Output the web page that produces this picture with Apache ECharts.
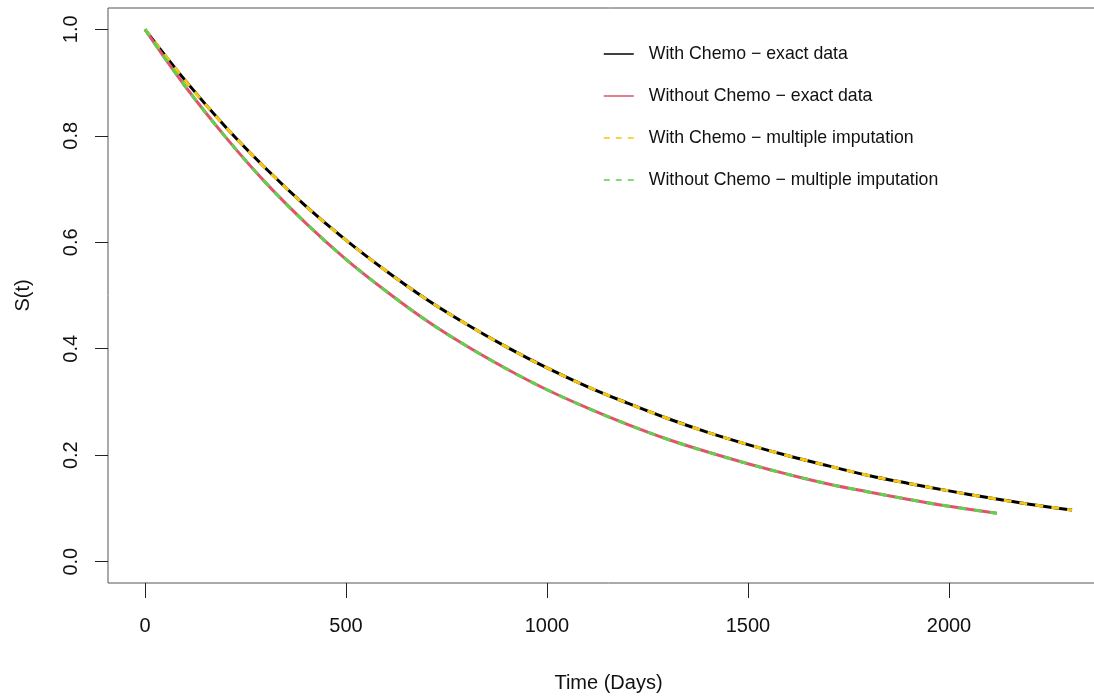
<!DOCTYPE html>
<html>
<head>
<meta charset="utf-8">
<script src="https://cdn.jsdelivr.net/npm/echarts@6/dist/echarts.min.js"></script>
<style>html,body{margin:0;padding:0;background:#fff;overflow:hidden;}#c{width:1120px;height:698px;}</style>
</head>
<body>
<div id="c"></div>
<script>
// Time points (days)
const timesChemo = [0,100,200,300,400,500,600,700,800,900,1000,1100,1200,1300,1400,1500,1600,1700,1800,1900,2000,2100,2200,2306];
const timesNoChemo = [0,100,200,300,400,500,600,700,800,900,1000,1100,1200,1300,1400,1500,1600,1700,1800,1900,2000,2119];
// S(t) values
const withChemoExact = [1.000,0.904,0.817,0.739,0.668,0.604,0.546,0.493,0.446,0.403,0.364,0.329,0.298,0.269,0.243,0.220,0.199,0.180,0.162,0.147,0.133,0.120,0.108,0.097];
const withoutChemoExact = [1.000,0.893,0.798,0.712,0.636,0.568,0.508,0.453,0.405,0.362,0.323,0.289,0.258,0.230,0.206,0.184,0.164,0.146,0.131,0.117,0.104,0.091];
const withChemoMI = [1.000,0.904,0.817,0.739,0.668,0.604,0.546,0.493,0.446,0.403,0.364,0.329,0.298,0.269,0.243,0.220,0.199,0.180,0.162,0.147,0.133,0.120,0.108,0.097];
const withoutChemoMI = [1.000,0.893,0.798,0.712,0.636,0.568,0.508,0.453,0.405,0.362,0.323,0.289,0.258,0.230,0.206,0.184,0.164,0.146,0.131,0.117,0.104,0.091];
const seriesNames = ['With Chemo \u2212 exact data','Without Chemo \u2212 exact data','With Chemo \u2212 multiple imputation','Without Chemo \u2212 multiple imputation'];
const xTicks = [0,500,1000,1500,2000];
const yTicks = [0,0.2,0.4,0.6,0.8,1.0];

const FONT = "'Liberation Sans', Arial, Helvetica, sans-serif";
const zip = (xs, ys) => xs.map((x, i) => [x, ys[i]]);

const chart = echarts.init(document.getElementById('c'), null, {renderer: 'canvas'});
const mk = (name, xs, ys, color, dashed, z) => ({
  name, type: 'line', data: zip(xs, ys), symbol: 'none', smooth: 0.4,
  z, animation: false,
  lineStyle: {color, width: 3, type: dashed ? [8, 8] : 'solid', cap: 'butt', join: 'round'},
  itemStyle: {color}
});
const legendItem = (name, color, dashed) => ({
  name,
  itemStyle: {opacity: 0, borderWidth: 0},
  lineStyle: {width: 1.5, color, type: dashed ? [6, 6] : 'solid', opacity: 1}
});
chart.setOption({
  animation: false,
  backgroundColor: '#fff',
  textStyle: {fontFamily: FONT},
  grid: {left: 108, top: 8, width: 1001, height: 576, show: true, borderColor: '#555', borderWidth: 1, backgroundColor: 'transparent', containLabel: false},
  legend: {
    orient: 'vertical', left: 598, top: 40, itemWidth: 30, itemHeight: 14, itemGap: 24,
    textStyle: {fontSize: 17.7, color: '#111', fontFamily: FONT, padding: [0, 0, 0, 10]},
    data: [
      legendItem(seriesNames[0], '#000000', false),
      legendItem(seriesNames[1], '#DF536B', false),
      legendItem(seriesNames[2], '#F5C710', true),
      legendItem(seriesNames[3], '#61D04F', true)
    ]
  },
  xAxis: {
    type: 'value', min: -92, max: 2398,
    name: 'Time (Days)', nameLocation: 'middle', nameGap: 90,
    nameTextStyle: {fontSize: 20, color: '#111', fontFamily: FONT},
    axisLine: {show: false, onZero: false},
    axisTick: {show: true, length: 15, lineStyle: {color: '#222', width: 1}, customValues: xTicks},
    axisLabel: {show: true, fontSize: 20, color: '#111', margin: 33, fontFamily: FONT, customValues: xTicks, formatter: v => String(v)},
    splitLine: {show: false}
  },
  yAxis: {
    type: 'value', min: -0.04, max: 1.04,
    name: 'S(t)', nameLocation: 'middle', nameGap: 75, nameRotate: 90,
    nameTextStyle: {fontSize: 20, color: '#111', fontFamily: FONT},
    axisLine: {show: false, onZero: false},
    axisTick: {show: true, length: 13, lineStyle: {color: '#222', width: 1}, customValues: yTicks},
    axisLabel: {show: true, fontSize: 20, color: '#111', margin: 27, rotate: 90, fontFamily: FONT, customValues: yTicks, formatter: v => v.toFixed(1)},
    splitLine: {show: false}
  },
  series: [
    mk(seriesNames[0], timesChemo, withChemoExact, '#000000', false, 2),
    mk(seriesNames[1], timesNoChemo, withoutChemoExact, '#DF536B', false, 2),
    mk(seriesNames[2], timesChemo, withChemoMI, '#F5C710', true, 3),
    mk(seriesNames[3], timesNoChemo, withoutChemoMI, '#61D04F', true, 3)
  ]
});
</script>
</body>
</html>
